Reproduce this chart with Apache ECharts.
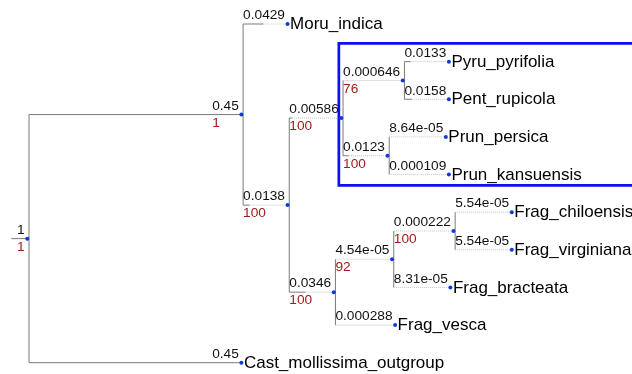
<!DOCTYPE html>
<html>
<head>
<meta charset="utf-8">
<script src="https://cdn.jsdelivr.net/npm/echarts@6/dist/echarts.min.js"></script>
<style>
  html, body { margin: 0; padding: 0; background: #ffffff; }
  #chart { width: 632px; height: 374px; }
</style>
</head>
<body>
<div id="chart"></div>
<script>
// Tree topology: one entry per node, children listed after their parent, top to bottom.
const nodeNames = [
  '', '', 'Moru_indica', '', '', '', 'Pyru_pyrifolia', 'Pent_rupicola', '',
  'Prun_persica', 'Prun_kansuensis', '', '', '', 'Frag_chiloensis',
  'Frag_virginiana', 'Frag_bracteata', 'Frag_vesca', 'Cast_mollissima_outgroup'
];
const parentIndex = [-1, 0, 1, 1, 3, 4, 5, 5, 4, 8, 8, 3, 11, 12, 13, 13, 12, 11, 0];
const branchLengths = [
  1, 0.45, 0.0429, 0.0138, 0.00586, 0.000646, 0.0133, 0.0158, 0.0123,
  8.64e-05, 0.000109, 0.0346, 4.54e-05, 0.000222, 5.54e-05,
  5.54e-05, 8.31e-05, 0.000288, 0.45
];
const supportValues = [
  1, 1, null, 100, 100, 76, null, null, 100,
  null, null, 100, 92, 100, null,
  null, null, null, null
];
// Clades framed with a box
const highlightedClades = [4];

const FONT_FAMILY = '"Liberation Sans", Arial, sans-serif';
const BRANCH_FONT = '13.7px ' + FONT_FAMILY;
const LEAF_FONT = '17px ' + FONT_FAMILY;
const SCALE = 472;        // pixels per unit of branch length
const ROOT_X = 27.3;      // x of the root node
const ROOT_STEM = 16;     // length of the stub drawn left of the root
const STEM_OFFSET = 1.7;  // gap between a node dot and its vertical connector
const FACE_PAD = 2.6;     // space between branch labels and the node dot

const LINE_COLOR = '#7a7a7a';
const DOT_LINE_COLOR = '#c4c4c4';
const SUPPORT_COLOR = '#a01c1c';
const NODE_COLOR = '#0a3bd8';
const BOX_COLOR = '#0f0ff5';

// %.3g style formatting of branch lengths
function formatLength(v) {
  if (v === 0) return '0';
  const e = Math.floor(Math.log10(Math.abs(v)));
  if (e < -4 || e >= 3) {
    let parts = v.toExponential(2).split('e');
    let m = parts[0].replace(/\.?0+$/, '');
    const ex = parseInt(parts[1], 10);
    return m + 'e' + (ex < 0 ? '-' : '+') + String(Math.abs(ex)).padStart(2, '0');
  }
  let s = v.toPrecision(3);
  if (s.indexOf('.') >= 0) s = s.replace(/\.?0+$/, '');
  return s;
}

const measureCtx = document.createElement('canvas').getContext('2d');
function textWidth(text, font) {
  measureCtx.font = font;
  return measureCtx.measureText(text).width;
}

// ---- layout ----
const nodeCount = nodeNames.length;
const children = nodeNames.map(() => []);
parentIndex.forEach((p, i) => { if (p >= 0) children[p].push(i); });

const topLabels = branchLengths.map(formatLength);
const bottomLabels = supportValues.map(s => (s == null ? '' : String(s)));
const faceWidth = topLabels.map((t, i) => Math.max(
  textWidth(t, BRANCH_FONT),
  bottomLabels[i] ? textWidth(bottomLabels[i], BRANCH_FONT) : 0
));

const nodeX = new Array(nodeCount);
const nodeRow = new Array(nodeCount);
const branchStart = new Array(nodeCount);
const solidEnd = new Array(nodeCount);
const leafRange = new Array(nodeCount);
let nextLeafRow = 0;

function place(i, start, isRoot) {
  branchStart[i] = start;
  if (isRoot) {
    nodeX[i] = ROOT_X;
    solidEnd[i] = ROOT_X;
  } else {
    const len = branchLengths[i] * SCALE;
    nodeX[i] = start + Math.max(len, faceWidth[i] + FACE_PAD);
    solidEnd[i] = Math.min(start + len, nodeX[i]);
  }
  const kids = children[i];
  if (kids.length === 0) {
    nodeRow[i] = nextLeafRow;
    leafRange[i] = [nextLeafRow, nextLeafRow];
    nextLeafRow += 1;
  } else {
    kids.forEach(k => place(k, nodeX[i] + STEM_OFFSET, false));
    nodeRow[i] = (nodeRow[kids[0]] + nodeRow[kids[kids.length - 1]]) / 2;
    leafRange[i] = [leafRange[kids[0]][0], leafRange[kids[kids.length - 1]][1]];
  }
}
place(0, ROOT_X - ROOT_STEM, true);

const seriesData = nodeNames.map((_, i) => [nodeX[i], nodeRow[i], i]);

function renderNode(params, api) {
  const i = api.value(2);
  const p = api.coord([nodeX[i], nodeRow[i]]);
  const y = p[1];
  const x0 = api.coord([branchStart[i], nodeRow[i]])[0];
  const xs = api.coord([solidEnd[i], nodeRow[i]])[0];
  const els = [];

  els.push({
    type: 'line',
    shape: { x1: x0, y1: y, x2: xs, y2: y },
    style: { stroke: LINE_COLOR, lineWidth: 1 }
  });
  if (p[0] - xs > 0.5) {
    els.push({
      type: 'line',
      shape: { x1: xs, y1: y, x2: p[0], y2: y },
      style: { stroke: DOT_LINE_COLOR, lineWidth: 1, lineDash: [1, 1] }
    });
  }

  const kids = children[i];
  if (kids.length) {
    const yTop = api.coord([0, nodeRow[kids[0]]])[1];
    const yBot = api.coord([0, nodeRow[kids[kids.length - 1]]])[1];
    const vx = p[0] + STEM_OFFSET;
    els.push({
      type: 'line',
      shape: { x1: vx, y1: yTop, x2: vx, y2: yBot },
      style: { stroke: LINE_COLOR, lineWidth: 1 }
    });
  }

  if (highlightedClades.indexOf(i) >= 0) {
    const yFirst = api.coord([0, leafRange[i][0]])[1];
    const yLast = api.coord([0, leafRange[i][1]])[1];
    els.push({
      type: 'rect',
      shape: { x: p[0] - 2.5, y: yFirst - 18.3, width: 400, height: (yLast + 10.8) - (yFirst - 18.3) },
      style: { stroke: BOX_COLOR, lineWidth: 2.7, fill: null }
    });
  }

  const labelX = p[0] - FACE_PAD - faceWidth[i];
  els.push({
    type: 'text',
    style: {
      text: topLabels[i], x: labelX, y: y - 1.5,
      font: BRANCH_FONT, fill: '#111111', align: 'left', verticalAlign: 'bottom'
    }
  });
  if (bottomLabels[i]) {
    els.push({
      type: 'text',
      style: {
        text: bottomLabels[i], x: labelX, y: y + 1.5,
        font: BRANCH_FONT, fill: SUPPORT_COLOR, align: 'left', verticalAlign: 'top'
      }
    });
  }

  els.push({
    type: 'circle',
    shape: { cx: p[0], cy: y, r: 2 },
    style: { fill: NODE_COLOR }
  });

  if (nodeNames[i]) {
    els.push({
      type: 'text',
      style: {
        text: nodeNames[i], x: p[0] + 2.5, y: y + 0.5,
        font: LEAF_FONT, fill: '#000000', align: 'left', verticalAlign: 'middle'
      }
    });
  }

  return { type: 'group', children: els };
}

const chart = echarts.init(document.getElementById('chart'), null, { renderer: 'canvas' });
chart.setOption({
  animation: false,
  backgroundColor: '#ffffff',
  grid: { left: 0, right: 0, top: 0, bottom: 0 },
  xAxis: { type: 'value', min: 0, max: 632, show: false },
  yAxis: { type: 'value', min: -0.638, max: 9.3, inverse: true, show: false },
  series: [{
    type: 'custom',
    coordinateSystem: 'cartesian2d',
    clip: false,
    silent: true,
    data: seriesData,
    renderItem: renderNode
  }]
});
</script>
</body>
</html>
